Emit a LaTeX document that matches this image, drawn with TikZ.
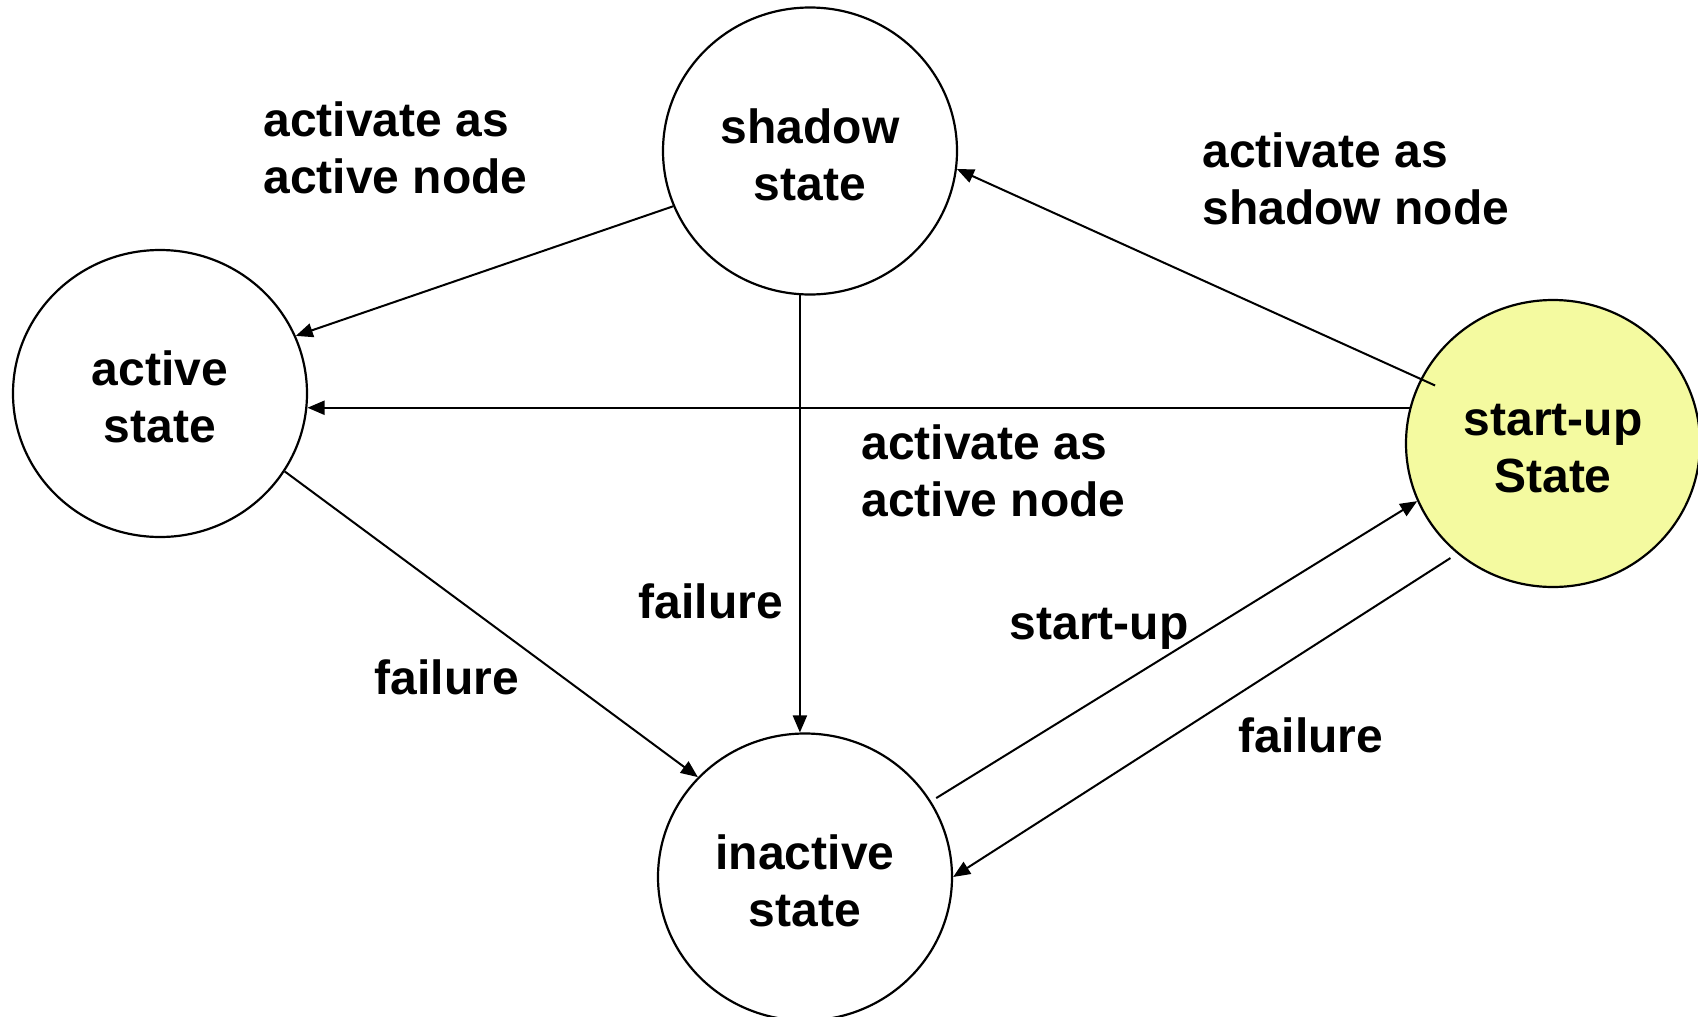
\documentclass[tikz,border=0pt]{standalone}
\usepackage{fontspec}
\setmainfont{Liberation Sans}
\usetikzlibrary{arrows.meta,shapes.geometric}
\definecolor{startyellow}{RGB}{244,250,160}
\begin{document}
\begin{tikzpicture}[x=0.5pt,y=-0.5pt,
  every node/.style={font=\fontsize{24}{28.5}\selectfont\bfseries},
  statenode/.style={ellipse,draw,line width=1.1pt,minimum width=147pt,minimum height=143.5pt,inner sep=0pt,align=center},
  lbl/.style={inner sep=0pt,align=left},
  arr/.style={line width=1pt,-{Triangle[length=8.5pt,width=7pt]}}]
\useasboundingbox (0,0) rectangle (1698,1017);
\node[statenode] (shadow) at (810,151) {\rule{0pt}{21pt}shadow\\state};
\node[statenode] (active) at (160,393.5) {\rule{0pt}{21pt}active\\state};
\node[statenode,fill=startyellow] (startup) at (1553,443.5) {\rule{0pt}{21pt}start-up\\State};
\node[statenode] (inactive) at (805,877) {\rule{0pt}{21pt}inactive\\state};
\draw[arr] (shadow.202.6) -- (active.23.4);
\draw[arr] (shadow.266.6) -- (shadow.266.6 |- inactive.92.4);
\draw[arr,shorten <=-8pt] (startup.154.2) -- (shadow.353.4);
\draw[arr] (startup.166.2) -- (startup.166.2 -| active.-5.5);
\draw[arr] (active.-32.5) -- (inactive.137.2);
\draw[arr,shorten <=3pt] (inactive.31.2) -- (startup.203.1);
\draw[arr,shorten <=4pt] (startup.229) -- (inactive.0.8);
\node[lbl,anchor=west] (l1) at (263,148) {activate as\\active node};
\node[lbl,anchor=west] (l2) at (1202,179) {activate as\\shadow node};
\node[lbl,anchor=west] (l3) at (861,470.5) {activate as\\active node};
\node[lbl] (l4) at (711,601) {failure};
\node[lbl] (l5) at (447,677) {failure};
\node[lbl] (l6) at (1099,629) {start-up};
\node[lbl] (l7) at (1311,735) {failure};
\end{tikzpicture}
\end{document}
